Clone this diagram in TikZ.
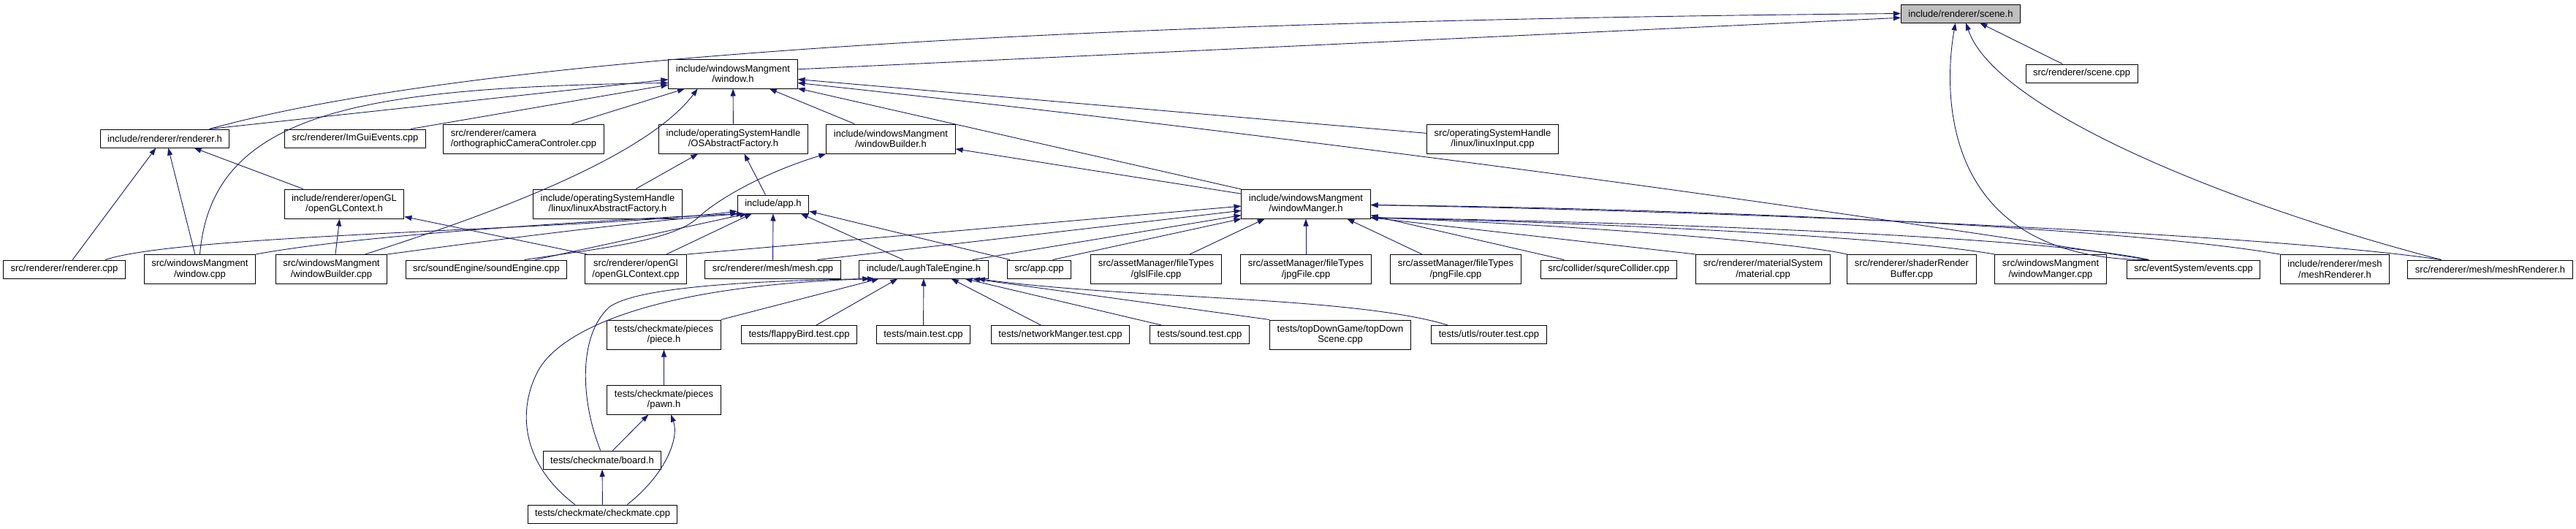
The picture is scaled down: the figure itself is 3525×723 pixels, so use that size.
\documentclass[tikz,border=0pt]{standalone}
\usepackage{fontspec}
\setmainfont{Liberation Sans}
\usetikzlibrary{arrows.meta}
\definecolor{depblue}{HTML}{191970}

\begin{document}
\begin{tikzpicture}[x=1pt,y=-1pt,font=\fontsize{13}{14.5}\selectfont,>={Triangle[length=10pt,width=7pt]},
  file/.style={draw,line width=1pt,fill=white,inner xsep=10pt,inner ysep=0pt,minimum height=25pt,align=center},
  file2/.style={file,minimum height=40pt},
  dep/.style={depblue,line width=.9pt,->}]
\useasboundingbox (0,0) rectangle (3525,723);

% upper levels
\node[file,fill=black!25] (sceneh) at (2683,18.5) {include/renderer/scene.h};
\node[file2] (windowh) at (1003,101) {include/windowsMangment\\/window.h};
\node[file] (scenecpp) at (2848.5,100.5) {src/renderer/scene.cpp};
\node[file] (rendererh) at (225.5,189.5) {include/renderer/renderer.h};
\node[file] (imgui) at (486,189.5) {src/renderer/ImGuiEvents.cpp};
\node[file2,align=left] (ortho) at (716.5,190) {src/renderer/camera\\/orthographicCameraControler.cpp};
\node[file2] (osaf) at (1003.5,190) {include/operatingSystemHandle\\/OSAbstractFactory.h};
\node[file2] (wbh) at (1219,190) {include/windowsMangment\\/windowBuilder.h};
\node[file2] (linuxinput) at (2042.5,190) {src/operatingSystemHandle\\/linux/linuxInput.cpp};
\node[file2] (glctxh) at (471,279) {include/renderer/openGL\\/openGLContext.h};
\node[file2] (linuxaf) at (831.5,279) {include/operatingSystemHandle\\/linux/linuxAbstractFactory.h};
\node[file] (apph) at (1058,279.5) {include/app.h};
\node[file2] (wmh) at (1787,279) {include/windowsMangment\\/windowManger.h};

% bottom row of sources
\node[file] (renderercpp) at (88,368.5) {src/renderer/renderer.cpp};
\node[file2] (windowcpp) at (273.5,368.5) {src/windowsMangment\\/window.cpp};
\node[file2] (wbcpp) at (453.5,368.5) {src/windowsMangment\\/windowBuilder.cpp};
\node[file] (soundengine) at (665.5,368.5) {src/soundEngine/soundEngine.cpp};
\node[file2] (glctxcpp) at (870,368.5) {src/renderer/openGl\\/openGLContext.cpp};
\node[file] (meshcpp) at (1057.5,368.5) {src/renderer/mesh/mesh.cpp};
\node[file] (lte) at (1264,368.5) {include/LaughTaleEngine.h};
\node[file] (appcpp) at (1422,368.5) {src/app.cpp};
\node[file2] (glsl) at (1582,368.5) {src/assetManager/fileTypes\\/glslFile.cpp};
\node[file2] (jpg) at (1787,368.5) {src/assetManager/fileTypes\\/jpgFile.cpp};
\node[file2] (png) at (1992,368.5) {src/assetManager/fileTypes\\/pngFile.cpp};
\node[file] (squre) at (2201.5,368.5) {src/collider/squreCollider.cpp};
\node[file2] (material) at (2412.5,368.5) {src/renderer/materialSystem\\/material.cpp};
\node[file2] (shader) at (2616,368.5) {src/renderer/shaderRender\\Buffer.cpp};
\node[file2] (wmcpp) at (2806,368.5) {src/windowsMangment\\/windowManger.cpp};
\node[file] (events) at (3001.5,368.5) {src/eventSystem/events.cpp};
\node[file2] (meshrendh) at (3195,368.5) {include/renderer/mesh\\/meshRenderer.h};
\node[file] (meshrendsrc) at (3407.5,368.5) {src/renderer/mesh/meshRenderer.h};

% tests
\node[file2] (piece) at (908.5,458) {tests/checkmate/pieces\\/piece.h};
\node[file] (flappy) at (1093.5,458) {tests/flappyBird.test.cpp};
\node[file] (maintest) at (1263.5,458) {tests/main.test.cpp};
\node[file] (network) at (1451,458) {tests/networkManger.test.cpp};
\node[file] (soundtest) at (1641.5,458) {tests/sound.test.cpp};
\node[file2] (topdown) at (1834,458) {tests/topDownGame/topDown\\Scene.cpp};
\node[file] (router) at (2037.5,458) {tests/utls/router.test.cpp};
\node[file2] (pawn) at (908.5,547) {tests/checkmate/pieces\\/pawn.h};
\node[file] (board) at (824,629.5) {tests/checkmate/board.h};
\node[file] (checkmate) at (824.5,703.5) {tests/checkmate/checkmate.cpp};

% into scene.h
\draw[dep] (rendererh.12) .. controls (600,90) and (1300,30) .. (sceneh.west);
\draw[dep] (windowh.4) -- (sceneh.184);
\draw[dep] (scenecpp) -- (sceneh);
\draw[dep] (events.168) .. controls (2650,356) and (2660,120) .. (sceneh.241);
\draw[dep] (meshrendsrc.169) .. controls (3050,280) and (2730,150) .. (sceneh.299);

% into window.h
\draw[dep] (rendererh.12) -- (windowh.185);
\draw[dep] (windowcpp.north) .. controls (290,150) and (500,120) .. (windowh.188);
\foreach \f in {imgui,ortho,osaf,wbh,linuxinput,wmh}
  \draw[dep] (\f) -- (windowh);
\draw[dep] (wbcpp.24) .. controls (650,300) and (880,220) .. (windowh.203);
\draw[dep] (events.168) .. controls (2328,260) and (1711,180) .. (windowh.352);

% into renderer.h and openGLContext.h
\draw[dep] (renderercpp.49) -- (rendererh.227);
\draw[dep] (windowcpp.108) -- (rendererh.290);
\draw[dep] (glctxh.160) -- (rendererh.342);
\draw[dep] (wbcpp.75) -- (glctxh.253);
\draw[dep] (glctxcpp.163) -- (glctxh.348);

% into OSAbstractFactory.h and windowBuilder.h
\draw[dep] (linuxaf.28) -- (osaf.203);
\draw[dep] (apph.129) -- (osaf.306);
\draw[dep] (soundengine.14) .. controls (820,340) and (920,330) .. (955,298) .. controls (985,270) and (1050,235) .. (wbh.south west);
\draw[dep] (wmh) -- (wbh);

% into app.h
\draw[dep] (renderercpp.13) .. controls (250,320) and (800,315) .. (apph.191);
\draw[dep] (windowcpp.north east) .. controls (500,320) and (850,300) .. (apph.195);
\draw[dep] (wbcpp.north east) .. controls (700,325) and (900,300) .. (apph.198);
\draw[dep] (soundengine.11) -- (apph.200);
\draw[dep] (glctxcpp.26) -- (apph.204);
\draw[dep] (meshcpp) -- (apph);
\draw[dep] (lte.155) -- (apph.341);
\draw[dep] (appcpp.162) -- (apph.349);

% into windowManger.h
\draw[dep] (glctxcpp.north east) -- (wmh.182);
\draw[dep] (meshcpp.12) -- (wmh.186);
\draw[dep] (lte.11) -- (wmh.190);
\draw[dep] (appcpp.35) -- (wmh.193);
\draw[dep] (glsl.24) -- (wmh.200);
\draw[dep] (jpg) -- (wmh);
\draw[dep] (png.156) -- (wmh.340);
\draw[dep] (squre.168) -- (wmh.350);
\draw[dep] (material.north west) -- (wmh.348);
\draw[dep] (shader.north west) .. controls (2450,330) and (2100,305) .. (wmh.348);
\draw[dep] (wmcpp.north west) .. controls (2600,325) and (2200,305) .. (wmh.348);
\draw[dep] (events.168) .. controls (2800,325) and (2300,305) .. (wmh.348);
\draw[dep] (meshrendh.north west) .. controls (2900,310) and (2300,285) .. (wmh.359);
\draw[dep] (meshrendsrc.169) .. controls (3100,320) and (2400,290) .. (wmh.359);

% into LaughTaleEngine.h
\draw[dep] (piece.north east) -- (lte.192);
\draw[dep] (flappy.29) -- (lte.200);
\draw[dep] (maintest) -- (lte);
\draw[dep] (network.154) -- (lte.341);
\draw[dep] (soundtest.166) -- (lte.347);
\draw[dep] (topdown.north west) -- (lte.349);
\draw[dep] (router.167) .. controls (1850,405) and (1550,410) .. (lte.350);
\draw[dep] (board.100) .. controls (795,550) and (790,460) .. (834,420) .. controls (870,395) and (1000,385) .. (lte.190);
\draw[dep] (checkmate.161) .. controls (720,640) and (705,570) .. (735,510) .. controls (765,450) and (900,390) .. (lte.191);

% checkmate tests
\draw[dep] (pawn) -- (piece);
\draw[dep] (board.42) -- (pawn.224);
\draw[dep] (checkmate) -- (board);
\draw[dep] (checkmate.21) .. controls (910,650) and (930,600) .. (pawn.295);
\end{tikzpicture}
\end{document}
